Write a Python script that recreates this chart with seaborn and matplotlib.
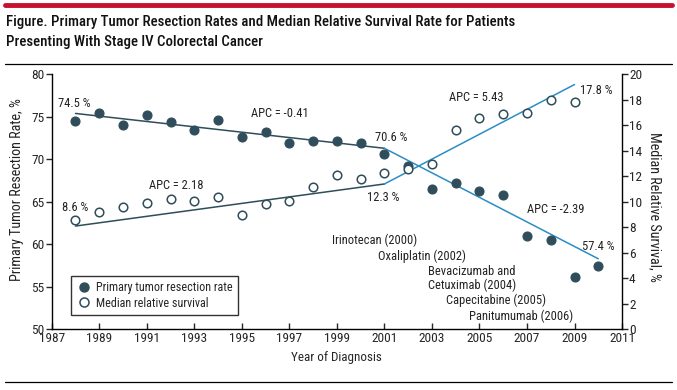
import matplotlib
matplotlib.use("Agg")
import matplotlib.pyplot as plt
from matplotlib.lines import Line2D
from matplotlib import font_manager
import seaborn as sns
import pandas as pd

# ---- data ----
years_res = list(range(1988, 2011))
resection = [74.5, 75.4, 74.0, 75.2, 74.4, 73.5, 74.6, 72.6, 73.2, 71.9, 72.2, 72.2,
             71.9, 70.6, 69.2, 66.5, 67.2, 66.3, 65.8, 61.0, 60.5, 56.2, 57.4]
years_surv = list(range(1988, 2010))
survival = [8.6, 9.2, 9.6, 9.9, 10.2, 10.1, 10.4, 9.0, 9.8, 10.1, 11.2, 12.1,
            11.8, 12.3, 12.6, 13.0, 15.6, 16.6, 16.9, 17.0, 18.0, 17.8]
res_trend_years = [1988, 2001, 2010]
res_trend_vals = [75.4, 71.3, 58.3]
surv_trend_years = [1988, 2001, 2009]
surv_trend_vals = [8.1, 11.4, 19.2]
xticks = list(range(1987, 2012, 2))
left_ticks = [50, 55, 60, 65, 70, 75, 80]
right_ticks = list(range(0, 21, 2))

DARK = "#2f4d5a"
BLUE = "#2b8dc6"
RED = "#c8102e"

sns.set_style("ticks")
installed = {f.name for f in font_manager.fontManager.ttflist}
pref = [n for n in ["Liberation Sans Narrow", "Roboto Condensed", "DejaVu Sans Condensed",
                    "Open Sans Condensed", "Roboto", "DejaVu Sans"] if n in installed]
plt.rcParams["font.family"] = pref + ["DejaVu Sans"]
plt.rcParams["font.stretch"] = "condensed"

fig = plt.figure(figsize=(6.77, 3.90), dpi=100)
ax = fig.add_axes([0.0764, 0.1556, 0.8424, 0.6538])
ax2 = ax.twinx()

df_res = pd.DataFrame({"year": years_res, "val": resection})
df_surv = pd.DataFrame({"year": years_surv, "val": survival})
df_rt = pd.DataFrame({"year": res_trend_years, "val": res_trend_vals})
df_st = pd.DataFrame({"year": surv_trend_years, "val": surv_trend_vals})

# trend lines
sns.lineplot(data=df_rt.iloc[:2], x="year", y="val", ax=ax, color=DARK, lw=1.1, zorder=2)
sns.lineplot(data=df_rt.iloc[1:], x="year", y="val", ax=ax, color=BLUE, lw=1.1, zorder=2)
sns.lineplot(data=df_st.iloc[:2], x="year", y="val", ax=ax2, color=DARK, lw=1.1, zorder=2)
sns.lineplot(data=df_st.iloc[1:], x="year", y="val", ax=ax2, color=BLUE, lw=1.1, zorder=2)

# points
sns.scatterplot(data=df_res, x="year", y="val", ax=ax, color=DARK, s=42,
                edgecolor=DARK, linewidth=0.8, zorder=3)
sns.scatterplot(data=df_surv, x="year", y="val", ax=ax2, facecolor="white",
                edgecolor=DARK, linewidth=1.1, s=38, zorder=3)

ax.set_xlim(1987, 2011)
ax.set_ylim(50, 80)
ax2.set_ylim(0, 20)
ax.set_xticks(xticks)
ax.set_yticks(left_ticks)
ax2.set_yticks(right_ticks)

for a in (ax, ax2):
    a.spines["top"].set_visible(False)
    for s in a.spines.values():
        s.set_linewidth(1.0)
        s.set_color("black")
ax.spines["right"].set_visible(False)
ax2.spines["left"].set_visible(False)
ax2.spines["bottom"].set_visible(False)

TS = 9.6
ax.tick_params(axis="y", direction="out", length=4, width=1, pad=1, labelsize=TS)
ax.tick_params(axis="x", direction="in", length=4, width=1, pad=2, labelsize=TS)
ax2.tick_params(axis="y", direction="out", length=4, width=1, pad=1, labelsize=TS)

ax.set_xlabel("Year of Diagnosis", fontsize=9.4)
ax.set_ylabel("Primary Tumor Resection Rate, %", fontsize=10.2, color="#222222")
ax2.set_ylabel("Median Relative Survival, %", fontsize=10.2, rotation=270, va="center",
               color="#222222")
ax.xaxis.set_label_coords(0.5, -0.085)
ax.yaxis.set_label_coords(-0.048, 0.55)
ax2.yaxis.set_label_coords(1.058, 0.48)
ax.grid(False)
ax2.grid(False)

# annotations (left-axis data coords)
fs = 9.0
ann = [
    ("74.5 %", 1987.95, 76.6, "center"),
    ("APC = -0.41", 1996.6, 75.4, "center"),
    ("APC = 2.18", 1992.25, 66.9, "center"),
    ("8.6 %", 1988.0, 64.35, "center"),
    ("70.6 %", 2001.3, 72.6, "center"),
    ("12.3 %", 2000.95, 65.5, "center"),
    ("APC = 5.43", 2004.85, 77.3, "center"),
    ("17.8 %", 2009.9, 78.1, "center"),
    ("APC = -2.39", 2008.2, 64.15, "center"),
    ("57.4 %", 2010.0, 59.8, "center"),
    ("Irinotecan (2000)", 2000.6, 60.5, "center"),
    ("Oxaliplatin (2002)", 2002.6, 58.6, "center"),
    ("Bevacizumab and\nCetuximab (2004)", 2002.85, 56.0, "left"),
    ("Capecitabine (2005)", 2005.7, 53.4, "center"),
    ("Panitumumab (2006)", 2006.75, 51.5, "center"),
]
for txt, x, y, ha in ann:
    ax.text(x, y, txt, ha=ha, va="center", fontsize=fs, color="#222222",
            linespacing=1.0, zorder=5)

handles = [
    Line2D([], [], marker="o", ls="none", color=DARK, markersize=6.5),
    Line2D([], [], marker="o", ls="none", markerfacecolor="white",
           markeredgecolor=DARK, markeredgewidth=1.1, markersize=6.5),
]
leg = ax.legend(handles, ["Primary tumor resection rate", "Median relative survival"],
                loc="lower left", bbox_to_anchor=(0.034, 0.056), fontsize=8.7,
                frameon=True, fancybox=False, edgecolor="black", borderpad=0.45,
                handletextpad=0.4, labelspacing=0.2, handlelength=1.2,
                borderaxespad=0)
leg.get_frame().set_linewidth(1.0)
leg.set_zorder(6)

# title and rules
fig.add_artist(Line2D([5 / 677, 672 / 677], [1 - 5 / 390, 1 - 5 / 390],
                      color=RED, lw=3.5, transform=fig.transFigure))
title_kw = dict(fontsize=10.7, fontweight="medium", ha="left", va="center", color="#111111")
fig.text(6 / 677, 1 - 22 / 390, "Figure. Primary Tumor Resection Rates and Median Relative Survival Rate for Patients", **title_kw)
fig.text(6 / 677, 1 - 42 / 390, "Presenting With Stage IV Colorectal Cancer", **title_kw)
fig.add_artist(Line2D([5 / 677, 672 / 677], [1 - 64 / 390, 1 - 64 / 390],
                      color="black", lw=0.9, transform=fig.transFigure))
fig.add_artist(Line2D([5 / 677, 672 / 677], [1 - 382 / 390, 1 - 382 / 390],
                      color="black", lw=0.9, transform=fig.transFigure))

fig.savefig("out.png", dpi=100)
